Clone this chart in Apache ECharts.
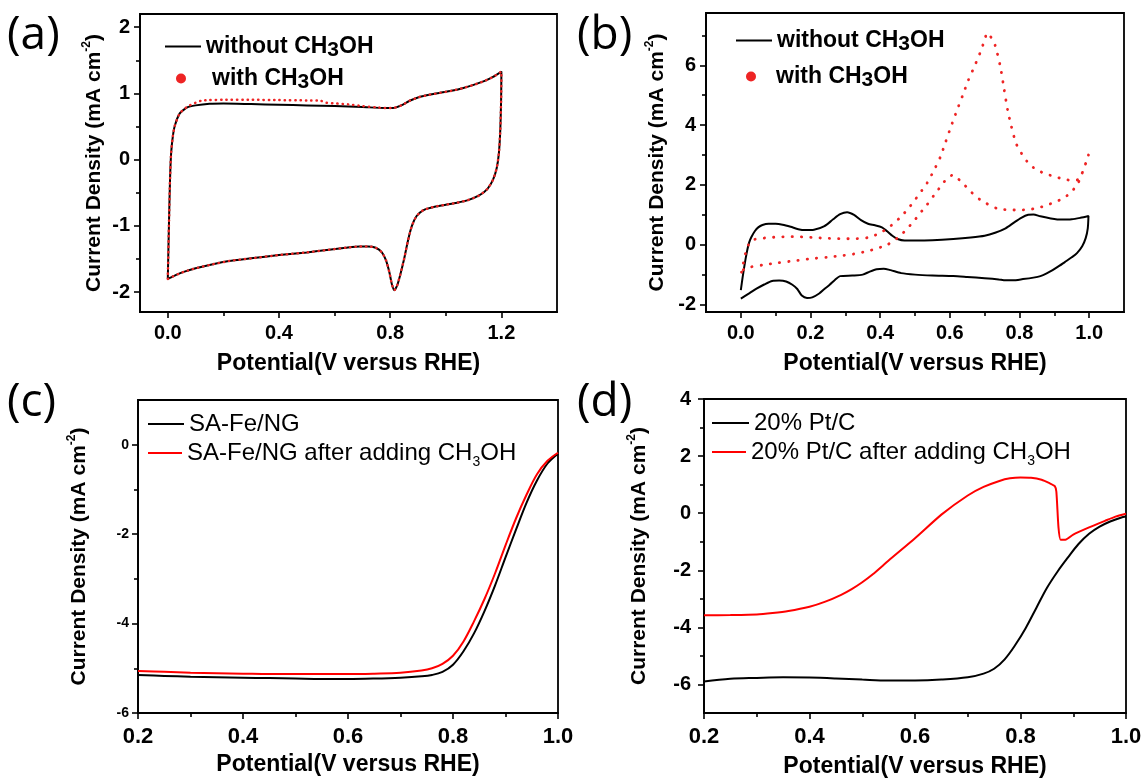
<!DOCTYPE html>
<html>
<head>
<meta charset="utf-8">
<script src="https://cdn.jsdelivr.net/npm/echarts@6/dist/echarts.min.js"></script>
<style>
html,body{margin:0;padding:0;background:#fff;}
#chart{width:1147px;height:778px;}
</style>
</head>
<body>
<div id="chart"></div>
<script>
// ---------------- DATA ----------------
// (a) CV, without CH3OH (black loop: forward then reverse)
const aNoX = [0.000,0.004,0.008,0.012,0.018,0.025,0.043,0.070,0.100,0.150,0.200,0.300,0.400,0.500,0.600,0.700,0.780,0.810,0.840,0.870,0.900,0.940,0.980,1.020,1.060,1.100,1.140,1.170,1.200,
  1.199,1.196,1.191,1.183,1.170,1.150,1.120,1.080,1.040,1.000,0.960,0.920,0.895,0.878,0.864,0.850,0.836,0.825,0.815,0.806,0.797,0.785,0.770,0.748,0.720,0.690,0.640,0.580,0.500,0.400,0.300,0.220,0.150,0.100,0.060,0.030,0.010,0.000];
const aNoY = [-1.80,-1.00,-0.30,0.10,0.35,0.51,0.70,0.79,0.82,0.845,0.85,0.84,0.83,0.82,0.81,0.795,0.78,0.78,0.82,0.89,0.94,0.98,1.01,1.04,1.08,1.13,1.19,1.25,1.33,
  0.90,0.45,0.10,-0.13,-0.30,-0.44,-0.54,-0.61,-0.65,-0.68,-0.71,-0.76,-0.85,-1.00,-1.22,-1.50,-1.74,-1.90,-1.97,-1.88,-1.70,-1.52,-1.40,-1.33,-1.31,-1.31,-1.33,-1.36,-1.40,-1.44,-1.49,-1.53,-1.59,-1.64,-1.69,-1.74,-1.78,-1.80];
// (a) CV, with CH3OH (red dotted)
const aMeX = [0.000,0.004,0.008,0.012,0.018,0.025,0.043,0.070,0.100,0.120,0.150,0.200,0.300,0.400,0.500,0.550,0.570,0.600,0.650,0.700,0.750,0.790,0.810,0.840,0.870,0.900,0.940,0.980,1.020,1.060,1.100,1.140,1.170,1.200,
  1.199,1.196,1.191,1.183,1.170,1.150,1.120,1.080,1.040,1.000,0.960,0.920,0.895,0.878,0.864,0.850,0.836,0.825,0.815,0.806,0.797,0.785,0.770,0.748,0.720,0.690,0.640,0.580,0.500,0.400,0.300,0.220,0.150,0.100,0.060,0.030,0.010,0.000];
const aMeY = [-1.80,-1.00,-0.30,0.10,0.35,0.51,0.70,0.80,0.86,0.89,0.90,0.905,0.905,0.90,0.895,0.89,0.86,0.85,0.835,0.81,0.79,0.78,0.78,0.82,0.89,0.94,0.98,1.01,1.04,1.08,1.13,1.19,1.25,1.33,
  0.90,0.45,0.10,-0.13,-0.30,-0.44,-0.54,-0.61,-0.65,-0.68,-0.71,-0.76,-0.85,-1.00,-1.22,-1.50,-1.74,-1.90,-1.97,-1.88,-1.70,-1.52,-1.40,-1.33,-1.31,-1.31,-1.33,-1.36,-1.40,-1.44,-1.49,-1.53,-1.59,-1.64,-1.69,-1.74,-1.78,-1.80];

// (b) CV, without CH3OH (black)
const bNoX = [0.000,0.005,0.009,0.014,0.019,0.024,0.030,0.040,0.050,0.062,0.080,0.100,0.120,0.143,0.165,0.185,0.210,0.240,0.265,0.285,0.305,0.325,0.345,0.365,0.385,0.405,0.420,0.435,0.450,0.470,0.500,0.550,0.610,0.660,0.700,0.730,0.760,0.785,0.805,0.825,0.840,0.860,0.890,0.920,0.950,0.975,0.998,
  0.996,0.990,0.980,0.965,0.950,0.930,0.915,0.895,0.878,0.860,0.840,0.810,0.780,0.760,0.740,0.700,0.650,0.610,0.550,0.500,0.460,0.430,0.410,0.390,0.370,0.350,0.320,0.285,0.270,0.255,0.240,0.225,0.205,0.190,0.175,0.162,0.148,0.130,0.110,0.090,0.067,0.045,0.025,0.000];
const bNoY = [-1.52,-1.10,-0.80,-0.45,-0.15,0.08,0.25,0.45,0.58,0.66,0.70,0.70,0.67,0.60,0.52,0.49,0.50,0.62,0.85,1.02,1.09,1.00,0.82,0.70,0.65,0.58,0.45,0.30,0.19,0.14,0.14,0.15,0.19,0.24,0.30,0.40,0.55,0.75,0.90,1.00,1.01,0.95,0.88,0.84,0.85,0.90,0.96,
  0.55,0.22,-0.05,-0.28,-0.42,-0.58,-0.70,-0.85,-0.96,-1.05,-1.10,-1.15,-1.19,-1.19,-1.16,-1.12,-1.08,-1.05,-1.03,-1.00,-0.95,-0.85,-0.80,-0.82,-0.90,-1.00,-1.03,-1.05,-1.18,-1.34,-1.48,-1.63,-1.76,-1.78,-1.70,-1.48,-1.34,-1.23,-1.20,-1.21,-1.33,-1.47,-1.62,-1.80];
// (b) CV, with CH3OH (red dotted)
const bMeX = [0.002,0.006,0.010,0.015,0.022,0.030,0.040,0.057,0.080,0.110,0.135,0.160,0.190,0.210,0.235,0.260,0.290,0.320,0.345,0.365,0.390,0.415,0.440,0.460,0.480,0.500,0.520,0.535,0.555,0.573,0.588,0.603,0.620,0.637,0.653,0.672,0.688,0.700,0.707,0.715,0.730,0.745,0.756,0.766,0.777,0.790,0.806,0.822,0.840,0.868,0.897,0.925,0.955,0.968,0.980,0.990,0.998,
  0.990,0.980,0.968,0.950,0.926,0.900,0.878,0.850,0.820,0.793,0.763,0.740,0.720,0.700,0.680,0.660,0.640,0.622,0.606,0.592,0.573,0.553,0.534,0.515,0.496,0.477,0.458,0.439,0.419,0.390,0.362,0.324,0.286,0.248,0.200,0.152,0.104,0.062,0.030,0.012,0.004];
const bMeY = [-0.92,-0.70,-0.45,-0.22,0.00,0.12,0.18,0.21,0.24,0.26,0.27,0.27,0.25,0.24,0.22,0.21,0.20,0.20,0.21,0.24,0.34,0.50,0.72,0.94,1.20,1.50,1.82,2.07,2.50,2.94,3.44,3.94,4.48,5.00,5.50,6.00,6.45,6.85,7.08,7.00,6.67,5.96,5.19,4.50,3.94,3.39,3.05,2.78,2.58,2.40,2.29,2.20,2.14,2.18,2.40,2.72,3.00,
  2.72,2.40,2.06,1.78,1.55,1.42,1.32,1.22,1.17,1.16,1.17,1.20,1.28,1.42,1.56,1.78,2.02,2.22,2.32,2.22,1.94,1.63,1.33,1.06,0.78,0.53,0.31,0.13,-0.01,-0.13,-0.22,-0.31,-0.37,-0.42,-0.47,-0.54,-0.61,-0.68,-0.74,-0.79,-0.88];

// (c) LSV SA-Fe/NG
const cX    = [0.20,0.25,0.30,0.35,0.40,0.45,0.50,0.55,0.60,0.65,0.70,0.74,0.76,0.78,0.80,0.82,0.84,0.86,0.88,0.90,0.92,0.94,0.96,0.98,1.00];
const cNoY  = [-5.15,-5.17,-5.19,-5.20,-5.21,-5.22,-5.23,-5.24,-5.24,-5.23,-5.21,-5.18,-5.15,-5.08,-4.92,-4.62,-4.22,-3.72,-3.15,-2.52,-1.90,-1.30,-0.80,-0.42,-0.20];
const cMeY  = [-5.06,-5.08,-5.10,-5.11,-5.12,-5.13,-5.13,-5.13,-5.13,-5.12,-5.10,-5.05,-5.00,-4.90,-4.72,-4.40,-3.95,-3.45,-2.88,-2.25,-1.65,-1.12,-0.66,-0.36,-0.18];

// (d) LSV 20% Pt/C
const dNoX = [0.20,0.25,0.30,0.35,0.40,0.45,0.50,0.55,0.60,0.65,0.70,0.73,0.75,0.77,0.79,0.81,0.83,0.85,0.87,0.89,0.91,0.93,0.95,0.97,0.99,1.00];
const dNoY = [-5.90,-5.80,-5.77,-5.75,-5.76,-5.79,-5.83,-5.86,-5.86,-5.83,-5.75,-5.62,-5.45,-5.12,-4.62,-4.02,-3.32,-2.62,-2.05,-1.55,-1.08,-0.72,-0.47,-0.29,-0.16,-0.12];
const dMeX = [0.20,0.25,0.30,0.33,0.36,0.40,0.43,0.46,0.48,0.50,0.52,0.55,0.60,0.65,0.70,0.73,0.76,0.78,0.80,0.82,0.84,0.855,0.865,0.868,0.872,0.876,0.885,0.90,0.93,0.96,0.98,1.00];
const dMeY = [-3.58,-3.57,-3.55,-3.50,-3.43,-3.28,-3.10,-2.86,-2.66,-2.42,-2.14,-1.66,-0.88,-0.05,0.62,0.92,1.13,1.22,1.25,1.24,1.17,1.05,0.95,0.75,-0.50,-0.93,-0.93,-0.75,-0.50,-0.27,-0.12,-0.02];

// tick values
const aXMajor = [0, 0.4, 0.8, 1.2], aXMinor = [0.2, 0.6, 1.0];
const aYMajor = [-2, -1, 0, 1, 2],  aYMinor = [-1.5, -0.5, 0.5, 1.5];
const bXMajor = [0, 0.2, 0.4, 0.6, 0.8, 1.0], bXMinor = [0.1, 0.3, 0.5, 0.7, 0.9];
const bYMajor = [-2, 0, 2, 4, 6], bYMinor = [-1, 1, 3, 5, 7];
const cXMajor = [0.2, 0.4, 0.6, 0.8, 1.0], cXMinor = [0.3, 0.5, 0.7, 0.9];
const cYMajor = [-6, -4, -2, 0], cYMinor = [-5, -3, -1];
const dXMajor = [0.2, 0.4, 0.6, 0.8, 1.0], dXMinor = [0.3, 0.5, 0.7, 0.9];
const dYMajor = [-6, -4, -2, 0, 2, 4], dYMinor = [-5, -3, -1, 1, 3];

// legend texts
const legendText = {
  a1: '{b|without CH}{bs|3}{b|OH}',
  a2: '{sp|}{b|with CH}{bs|3}{b|OH}',
  b1: '{b|without CH}{bs|3}{b|OH}',
  b2: '{sp2|}{b|with CH}{bs|3}{b|OH}',
  c1: '{r|SA-Fe/NG}',
  c2: '{r|SA-Fe/NG after adding CH}{rs|3}{r|OH}',
  d1: '{r|20% Pt/C}',
  d2: '{r|20% Pt/C after adding CH}{rs|3}{r|OH}'
};
const panelLabels = ['(a)', '(b)', '(c)', '(d)'];
const xName = 'Potential(V versus RHE)';
const yName = '{n|Current Density (mA cm}{s|-2}{n|)}';

// ---------------- LAYOUT / STYLE ----------------
const FONT = '"Liberation Sans", Arial, Helvetica, sans-serif';
const zip = (xs, ys) => xs.map((x, i) => [x, ys[i]]);

const panels = [
  {grid:{left:140, top:14, width:417, height:298}, xMin:-0.1, xMax:1.4, yMin:-2.3, yMax:2.2,
   xMaj:aXMajor, xMin2:aXMinor, yMaj:aYMajor, yMin2:aYMinor,
   xLab:20, yLab:20, xMargin:11, yMargin:10, xGap:40, yGap:32},
  {grid:{left:706, top:13, width:418, height:299}, xMin:-0.1, xMax:1.1, yMin:-2.25, yMax:7.75,
   xMaj:bXMajor, xMin2:bXMinor, yMaj:bYMajor, yMin2:bYMinor,
   xLab:20, yLab:20, xMargin:11, yMargin:10, xGap:40, yGap:35},
  {grid:{left:138, top:400, width:420, height:313}, xMin:0.2, xMax:1.0, yMin:-6, yMax:1,
   xMaj:cXMajor, xMin2:cXMinor, yMaj:cYMajor, yMin2:cYMinor,
   xLab:22, yLab:14, xMargin:13, yMargin:9, xGap:40, yGap:45},
  {grid:{left:704, top:399, width:422, height:314}, xMin:0.2, xMax:1.0, yMin:-7, yMax:4,
   xMaj:dXMajor, xMin2:dXMinor, yMaj:dYMajor, yMin2:dYMinor,
   xLab:22, yLab:20, xMargin:13, yMargin:13, xGap:42, yGap:51}
];

const grid = [], xAxis = [], yAxis = [];
panels.forEach((p, i) => {
  grid.push(Object.assign({show:true, borderColor:'#000', borderWidth:1.8, backgroundColor:'transparent', containLabel:false, outerBoundsMode:'none'}, p.grid));
  xAxis.push({
    type:'value', gridIndex:i, min:p.xMin, max:p.xMax, position:'bottom',
    axisLine:{show:true, onZero:false, lineStyle:{color:'#000', width:1.8}},
    axisTick:{show:true, inside:false, length:6, customValues:p.xMaj, lineStyle:{color:'#000', width:1.6}},
    axisLabel:{show:true, customValues:p.xMaj, margin:p.xMargin, color:'#000', fontFamily:FONT, fontWeight:'bold', fontSize:p.xLab,
               formatter:v => Number(v).toFixed(1)},
    splitLine:{show:false},
    name:xName, nameLocation:'middle', nameGap:p.xGap,
    nameTextStyle:{color:'#000', fontFamily:FONT, fontWeight:'bold', fontSize:23}
  });
  xAxis.push({
    type:'value', gridIndex:i, min:p.xMin, max:p.xMax, position:'bottom',
    axisLine:{show:false, onZero:false}, axisLabel:{show:false}, splitLine:{show:false},
    axisTick:{show:true, inside:false, length:4, customValues:p.xMin2, lineStyle:{color:'#000', width:1.6}}
  });
  yAxis.push({
    type:'value', gridIndex:i, min:p.yMin, max:p.yMax, position:'left',
    axisLine:{show:true, onZero:false, lineStyle:{color:'#000', width:1.8}},
    axisTick:{show:true, inside:false, length:6, customValues:p.yMaj, lineStyle:{color:'#000', width:1.6}},
    axisLabel:{show:true, customValues:p.yMaj, margin:p.yMargin, color:'#000', fontFamily:FONT, fontWeight:'bold', fontSize:p.yLab,
               formatter:v => String(Math.round(v))},
    splitLine:{show:false},
    name:yName, nameLocation:'middle', nameGap:p.yGap,
    nameTextStyle:{rich:{
      n:{color:'#000', fontFamily:FONT, fontWeight:'bold', fontSize:21, lineHeight:27},
      s:{color:'#000', fontFamily:FONT, fontWeight:'bold', fontSize:12, height:12, lineHeight:12, verticalAlign:'top'}
    }}
  });
  yAxis.push({
    type:'value', gridIndex:i, min:p.yMin, max:p.yMax, position:'left',
    axisLine:{show:false, onZero:false}, axisLabel:{show:false}, splitLine:{show:false},
    axisTick:{show:true, inside:false, length:4, customValues:p.yMin2, lineStyle:{color:'#000', width:1.6}}
  });
});

const BLACK = '#000000', RED = '#ff0000', DOTRED = '#ee2424';
function lineSeries(name, panel, data, color, width, smooth, z) {
  return {
    name, type:'line', xAxisIndex:panel*2, yAxisIndex:panel*2, data,
    showSymbol:false, symbol:'none', smooth, color,
    itemStyle:{color, borderWidth:0},
    lineStyle:{color, width}, z:z || 2, animation:false
  };
}
function dotSeries(name, panel, data, dash, width) {
  return {
    name, type:'line', xAxisIndex:panel*2, yAxisIndex:panel*2, data,
    showSymbol:false, symbol:'none', smooth:0.2, color:DOTRED,
    itemStyle:{color:DOTRED, borderWidth:0},
    lineStyle:{color:DOTRED, width, type:dash, cap:'round'}, z:3, animation:false
  };
}

const series = [
  lineSeries('a1', 0, zip(aNoX, aNoY), BLACK, 2, 0.2, 2),
  dotSeries('a2', 0, zip(aMeX, aMeY), [0.3, 5], 2.5),
  lineSeries('b1', 1, zip(bNoX, bNoY), BLACK, 2, 0.25, 2),
  dotSeries('b2', 1, zip(bMeX, bMeY), [0.3, 9], 2.8),
  lineSeries('c1', 2, zip(cX, cNoY), BLACK, 2, 0.35, 2),
  lineSeries('c2', 2, zip(cX, cMeY), RED, 2, 0.35, 3),
  lineSeries('d1', 3, zip(dNoX, dNoY), BLACK, 2, 0.35, 2),
  lineSeries('d2', 3, zip(dMeX, dMeY), RED, 2, 0.2, 3)
];

const richLegend = {
  b:{color:'#000', fontFamily:FONT, fontWeight:'bold', fontSize:23, lineHeight:24},
  bs:{color:'#000', fontFamily:FONT, fontWeight:'bold', fontSize:21, height:16, lineHeight:16, verticalAlign:'bottom'},
  r:{color:'#000', fontFamily:FONT, fontSize:24, lineHeight:30},
  rs:{color:'#000', fontFamily:FONT, fontSize:14, height:12, lineHeight:12, verticalAlign:'bottom'},
  sp:{width:21, height:10},
  sp2:{width:15, height:10}
};
function mkLegend(name, icon, left, top, w, h) {
  return {
    data:[{name, icon}], left, top, itemWidth:w, itemHeight:h, padding:0, itemGap:0,
    selectedMode:false, itemStyle:{borderWidth:0},
    formatter:n => legendText[n], textStyle:{rich:richLegend}
  };
}
const legend = [
  mkLegend('a1', 'rect', 165, 35, 36, 2),
  mkLegend('a2', 'circle', 176, 67, 10, 10),
  mkLegend('b1', 'rect', 736, 29, 36, 2),
  mkLegend('b2', 'circle', 746, 65, 10, 10),
  mkLegend('c1', 'rect', 148, 412, 36, 2),
  mkLegend('c2', 'rect', 148, 441, 34, 2),
  mkLegend('d1', 'rect', 712, 411, 37, 2),
  mkLegend('d2', 'rect', 712, 440, 34, 2)
];

const labelPos = [[7, 36], [577, 36], [7, 403], [577, 403]];
const graphic = panelLabels.map((t, i) => ({
  type:'text', x:labelPos[i][0], y:labelPos[i][1], silent:true,
  style:{text:t, fill:'#000', fontFamily:'"Open Sans", Lato, sans-serif', fontSize:46, align:'left', verticalAlign:'middle'}
}));

const chart = echarts.init(document.getElementById('chart'), null, {renderer:'canvas'});
chart.setOption({
  backgroundColor:'#ffffff',
  animation:false,
  grid, xAxis, yAxis, series, legend, graphic
});
</script>
</body>
</html>
